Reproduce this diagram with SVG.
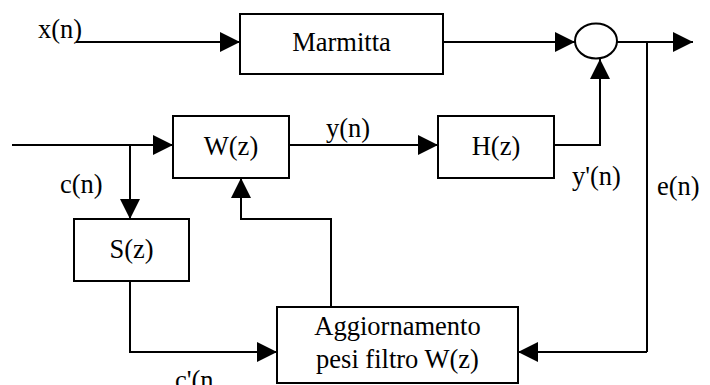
<svg xmlns="http://www.w3.org/2000/svg" width="710" height="385" viewBox="0 0 710 385">
<defs>
<marker id="ah" viewBox="0 0 20 20" refX="20" refY="10" markerWidth="20" markerHeight="20" markerUnits="userSpaceOnUse" orient="auto">
<path d="M0,0 L20,10 L0,20 Z" fill="#000"/>
</marker>
</defs>
<rect width="710" height="385" fill="#fff"/>
<g id="connectors" fill="none" stroke="#000" stroke-width="2">
<path marker-end="url(#ah)" d="M76,42 H240"/>
<path marker-end="url(#ah)" d="M443,42 H575"/>
<path marker-end="url(#ah)" d="M617,42 H693"/>
<path d="M647,42 V352"/>
<path marker-end="url(#ah)" d="M647,352 H518"/>
<path marker-end="url(#ah)" d="M12,145 H173"/>
<path marker-end="url(#ah)" d="M130,145 V219"/>
<path marker-end="url(#ah)" d="M289,145 H438"/>
<path marker-end="url(#ah)" d="M554,145 H600 V59"/>
<path marker-end="url(#ah)" d="M331,307 V219 H241 V178"/>
<path marker-end="url(#ah)" d="M130,281 V352 H277"/>
</g>
<g font-family="Liberation Serif, serif" font-size="26.5" fill="#000">
<g id="marmitta"><rect x="240" y="14" width="203" height="60" fill="#fff" stroke="#000" stroke-width="2"/><text x="341.5" y="51" text-anchor="middle">Marmitta</text></g>
<g id="sum"><ellipse cx="596" cy="41" rx="21" ry="17.5" fill="#fff" stroke="#000" stroke-width="2"/></g>
<g id="wz"><rect x="173" y="116" width="116" height="62" fill="#fff" stroke="#000" stroke-width="2"/><text x="231" y="155" text-anchor="middle">W(z)</text></g>
<g id="hz"><rect x="438" y="116" width="116" height="62" fill="#fff" stroke="#000" stroke-width="2"/><text x="496" y="155" text-anchor="middle">H(z)</text></g>
<g id="sz"><rect x="74" y="219" width="115" height="62" fill="#fff" stroke="#000" stroke-width="2"/><text x="131.5" y="258" text-anchor="middle">S(z)</text></g>
<g id="aggiornamento"><rect x="277" y="307" width="241" height="76" fill="#fff" stroke="#000" stroke-width="2"/><text x="397.5" y="335" text-anchor="middle">Aggiornamento</text><text x="397.5" y="368" text-anchor="middle">pesi filtro W(z)</text></g>
<g id="labels">
<text x="38" y="38">x(n)</text>
<text x="326" y="137">y(n)</text>
<text x="572" y="185">y'(n)</text>
<text x="657" y="195">e(n)</text>
<text x="60" y="193">c(n)</text>
<text x="175" y="389">c'(n</text>
</g>
</g>
</svg>
